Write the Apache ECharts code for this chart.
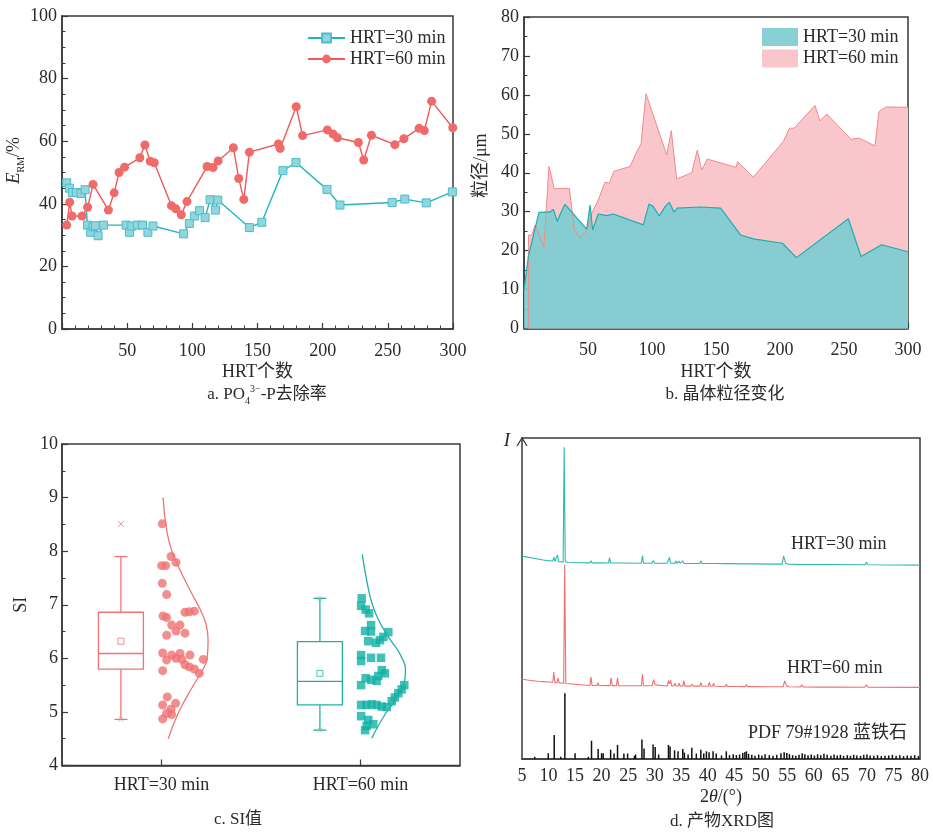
<!DOCTYPE html>
<html><head><meta charset="utf-8">
<script src="https://cdn.jsdelivr.net/npm/echarts/dist/echarts.min.js"></script>
<style>html,body{margin:0;padding:0;background:#fff}#c{width:933px;height:832px}</style>
</head><body><div id="c"></div>
<script>
// ---------- Panel a : PO4-P removal rate ----------
const aHrt30 = [[3.6,46.7],[5.6,45],[7.9,43.6],[11,43.6],[14.6,43.3],[17.7,44.5],[19.5,33.2],[22,30.9],[23.8,32.7],[25.6,33],[27.7,29.8],[31.8,33.2],[49.2,33.2],[51.8,30.9],[53.6,32.9],[57.7,33.2],[61.8,33.2],[65.9,30.9],[69.8,32.9],[93.3,30.4],[97.7,33.7],[101.8,36.1],[105.6,37.8],[109.8,35.6],[113.6,41.3],[117.7,38],[119.5,41.2],[143.8,32.4],[153.3,34.1],[169.5,50.6],[179.5,53.2],[203.3,44.6],[213.3,39.6],[253.3,40.4],[263,41.5],[279.5,40.3],[299.5,43.8]];
const aHrt60 = [[3.6,33.2],[5.9,40.5],[7.7,36.1],[15.4,36.1],[19.7,38.9],[23.8,46.2],[35.6,38],[40,43.5],[43.8,50],[48,51.7],[59.7,54.7],[63.6,58.8],[67.7,53.6],[70.8,53.1],[84,39.4],[87.4,38.4],[91.5,36.5],[95.9,40.7],[111.3,51.9],[115.9,51.6],[119.8,53.7],[131.5,57.9],[135.6,48.1],[139.5,41.4],[143.8,56.5],[166,59.1],[167.4,57.7],[179.7,71],[184.6,61.8],[203.6,63.6],[208,62.3],[211.3,61.1],[227.4,59.6],[231.5,54],[237.4,61.9],[255.4,58.9],[262.3,60.8],[274,64.1],[278,63.4],[283.6,72.8],[299.8,64.3]];

// ---------- Panel b : crystal size ----------
const bHrt30 = [[0,9.9],[3.4,18.5],[4.7,18.5],[11.7,29.8],[16,29.9],[20.3,29.9],[22.9,30.6],[26,27.5],[28.1,29.2],[32,31.9],[49,25.5],[51.6,31.7],[53.6,25.3],[58,29.4],[64.6,29],[69.8,29.4],[93.2,26.6],[97.7,32],[101,31.3],[105.7,28.9],[110.2,31.3],[113.5,32.4],[117.2,29.9],[119.8,30.9],[137.5,31.2],[153.6,30.9],[169.3,24],[179.2,23],[202,21.9],[212.8,18.2],[253.4,28.2],[263.3,18.5],[279.4,21.5],[300,19.7]];
const bHrt60 = [[3.4,0],[3.5,24],[6,24],[8.6,26.6],[15.6,21],[19.5,41.6],[23.7,35.9],[35.4,36],[39.5,25.3],[43.8,23.2],[49.5,25.5],[52.9,29.6],[58,33],[63.3,37.6],[66.6,37.3],[70.3,40.4],[82.8,41.6],[87.5,45],[91.4,47.4],[95.3,60.3],[111.5,44.6],[115.1,50.8],[119.3,38.4],[131,40],[135.4,45.8],[138.8,40.7],[143.2,43.5],[165.6,41.4],[166.9,42.8],[179.2,38.9],[202.6,48],[207.3,51.4],[211.2,51.5],[227.3,57.3],[231.2,53.3],[236.5,55.1],[255.5,48.6],[261.7,48.9],[274.2,46.9],[277.3,55.7],[282.8,56.9],[300,56.8]];

// ---------- Panel c : SI ----------
const cCategories = ['HRT=30 min','HRT=60 min'];
// [position, min, Q1, median, Q3, max]
const cBox30 = [0.296, 4.86, 5.8, 6.09, 6.86, 7.9];
const cBox60 = [1.296, 4.66, 5.13, 5.57, 6.31, 7.12];
const cMean30 = [0.296, 6.32];
const cMean60 = [1.296, 5.72];
const cOutlier30 = [[0.296, 8.51]];
const cMinMax = [[0.296,4.86],[1.296,4.66],[1.296,7.12]];
const cPoints30 = [[0.504,8.51],[0.548,7.9],[0.573,7.79],[0.501,7.73],[0.521,7.73],[0.504,7.4],[0.526,7.19],[0.508,6.79],[0.526,6.76],[0.551,6.62],[0.593,6.62],[0.573,6.51],[0.526,6.43],[0.618,6.47],[0.618,6.86],[0.640,6.87],[0.665,6.88],[0.506,6.1],[0.526,5.97],[0.551,6.06],[0.573,6.0],[0.593,6.09],[0.602,5.98],[0.643,6.06],[0.618,5.88],[0.640,5.84],[0.665,5.8],[0.710,5.98],[0.690,5.72],[0.506,5.77],[0.529,5.28],[0.506,5.13],[0.571,5.16],[0.548,5.05],[0.526,4.97],[0.551,4.95],[0.506,4.87]];
const cPoints60 = [[1.506,7.12],[1.503,6.98],[1.526,6.91],[1.543,6.84],[1.553,6.62],[1.523,6.51],[1.553,6.50],[1.640,6.49],[1.615,6.40],[1.539,6.32],[1.578,6.29],[1.598,6.34],[1.503,6.06],[1.503,5.95],[1.553,6.01],[1.603,6.01],[1.503,5.5],[1.526,5.63],[1.553,5.6],[1.589,5.67],[1.581,5.58],[1.607,5.78],[1.623,5.72],[1.720,5.5],[1.707,5.42],[1.690,5.35],[1.673,5.27],[1.657,5.2],[1.503,5.13],[1.531,5.13],[1.556,5.14],[1.581,5.13],[1.607,5.1],[1.632,5.09],[1.503,4.92],[1.539,4.85],[1.564,4.77],[1.531,4.74],[1.523,4.66]];
const cCurve30 = [[0.508,9.0],[0.526,8.39],[0.551,8.02],[0.593,7.65],[0.652,7.21],[0.702,6.85],[0.731,6.5],[0.734,6.3],[0.729,6.0],[0.702,5.75],[0.677,5.6],[0.627,5.28],[0.576,4.91],[0.534,4.5]];
const cCurve60 = [[1.509,7.94],[1.531,7.46],[1.560,7.0],[1.600,6.65],[1.651,6.34],[1.701,6.06],[1.726,5.75],[1.718,5.53],[1.676,5.22],[1.626,4.97],[1.556,4.51]];

// ---------- Panel d : XRD ----------
const dTrace30 = [[5,63.2],[6,62.9],[7,62.6],[8,62.3],[9,62.0],[10,61.8],[10.8,61.7],[11.0,62.9],[11.2,61.6],[11.5,61.6],[11.7,63.6],[11.9,61.5],[12.75,61.4],[12.95,97.1],[13.15,61.6],[13.6,61.2],[17.8,61.1],[18.0,61.8],[18.2,61.1],[19.2,61.1],[19.4,61.4],[19.6,61.1],[21.3,61.05],[21.5,62.7],[21.7,61.05],[22.7,61.05],[22.9,61.6],[23.1,61.05],[27.5,61.0],[27.7,63.3],[27.9,61.0],[29.5,61.0],[29.7,61.8],[30.0,61.0],[32.4,61.0],[32.6,62.0],[32.8,62.8],[33.0,61.0],[33.8,61.0],[34.0,61.7],[34.2,60.95],[34.4,60.95],[34.6,61.6],[34.8,60.95],[35.1,60.95],[35.3,61.7],[35.5,60.95],[36.6,60.9],[36.8,61.4],[37.0,60.9],[38.5,60.9],[38.7,61.7],[38.9,60.9],[40.0,60.9],[40.2,61.4],[40.4,60.9],[40.8,60.9],[41.0,61.5],[41.2,60.9],[43.3,60.85],[43.5,61.3],[43.7,60.85],[47.1,60.8],[47.3,61.3],[47.5,60.8],[48.1,60.8],[48.3,61.0],[48.5,60.8],[54.0,60.7],[54.3,63.2],[54.7,60.9],[55.2,60.7],[57.6,60.6],[57.8,61.0],[58.1,60.6],[62.0,60.6],[62.2,60.8],[62.4,60.6],[69.7,60.5],[69.9,61.3],[70.2,60.5],[80,60.4]];
const dTrace60 = [[5,24.9],[6,24.6],[7,24.4],[8,24.2],[9,24.1],[10,24.0],[10.8,23.9],[11.0,27.1],[11.2,23.8],[11.6,23.8],[11.8,25.3],[12.0,23.7],[12.85,23.6],[13.05,60.5],[13.25,23.5],[13.6,23.2],[17.8,22.9],[18.0,25.6],[18.2,22.9],[19.1,22.9],[19.3,23.8],[19.5,22.9],[21.6,22.85],[21.8,25.3],[22.0,22.85],[22.8,22.85],[23.0,25.3],[23.2,22.85],[24.3,22.8],[24.5,23.3],[24.7,22.8],[27.5,22.8],[27.7,26.4],[27.9,22.8],[29.5,22.8],[29.8,24.7],[30.1,23.1],[30.4,22.8],[32.4,22.75],[32.6,24.4],[32.8,23.4],[33.0,24.6],[33.2,22.75],[33.6,22.75],[33.8,23.6],[34.0,22.75],[34.4,22.75],[34.6,23.6],[34.8,22.75],[35.3,22.7],[35.5,24.4],[35.7,22.7],[36.8,22.7],[37.0,23.4],[37.2,22.7],[38.5,22.7],[38.7,23.9],[38.9,22.7],[40.1,22.65],[40.3,23.9],[40.5,22.65],[40.9,22.65],[41.1,23.6],[41.3,22.65],[43.3,22.6],[43.5,23.4],[43.7,22.6],[45.0,22.6],[45.2,22.9],[45.4,22.6],[47.1,22.55],[47.3,23.2],[47.5,22.55],[48.3,22.55],[48.5,22.8],[48.7,22.55],[51.0,22.5],[51.2,22.8],[51.4,22.5],[54.2,22.5],[54.5,24.3],[54.9,22.7],[55.3,22.5],[57.5,22.45],[57.7,23.1],[58.0,22.45],[61.0,22.4],[61.2,22.7],[61.4,22.4],[63.5,22.4],[63.7,22.6],[63.9,22.4],[69.6,22.35],[69.9,23.1],[70.2,22.35],[80,22.3]];
const dPdfSticks = [[7.4,0.7],[9.95,1.8],[11.07,7.5],[12.3,0.7],[13.08,20.5],[15.0,1.8],[17.5,0.7],[18.1,5.7],[19.35,3.1],[20.0,1.8],[20.3,1.8],[21.7,2.9],[22.35,1.7],[23.0,4.4],[24.2,1.7],[24.9,1.7],[26.2,1.0],[26.4,1.4],[27.6,6.1],[28.0,3.3],[29.7,4.5],[30.1,3.7],[30.75,1.4],[32.6,4.4],[32.9,3.9],[33.75,2.7],[34.4,2.4],[35.3,3.1],[35.6,2.0],[36.3,1.4],[37.0,3.5],[37.85,1.7],[38.7,2.9],[39.25,1.7],[39.75,2.4],[40.25,2.1],[41.0,2.4],[41.6,1.7],[42.6,1.1],[43.5,2.4],[44.1,1.2],[44.8,1.5],[45.4,1.2],[46.0,1.4],[46.6,1.9],[47.0,2.2],[47.3,2.4],[47.7,1.6],[48.3,1.3],[48.9,1.0],[49.6,1.4],[50.2,1.1],[50.8,1.5],[51.6,1.2],[52.3,1.0],[53.0,1.3],[53.8,1.8],[54.4,2.1],[54.9,1.9],[55.4,1.5],[56.0,1.2],[56.6,1.0],[57.2,1.3],[57.8,1.8],[58.3,1.5],[58.9,1.2],[59.5,1.4],[60.1,1.1],[60.7,1.5],[61.3,1.2],[61.9,1.6],[62.5,1.3],[63.2,1.0],[63.8,1.4],[64.4,1.1],[65.0,1.3],[65.6,1.0],[66.3,1.2],[66.9,1.0],[67.5,1.3],[68.1,1.1],[68.8,1.0],[69.4,1.3],[70.0,1.4],[70.6,1.1],[71.3,1.0],[72.0,1.2],[72.7,0.9],[73.4,1.0],[74.1,1.1],[74.8,1.3],[75.5,1.0],[76.2,1.2],[76.9,0.9],[77.6,1.1],[78.3,1.0],[79.0,1.2],[79.7,0.9]];

// ---------- styling ----------
const FF = "'Liberation Serif','Noto Sans CJK SC',serif";
const AX = '#3a3a3a';
const TXT = '#2a2a2a';
const TEAL = '#22b5bf', TEAL_FILL = '#90d6de';
const RED = '#ee5a5a', RED_FILL = '#f06a6a';
const C_RED = '#f07272', C_TEAL = '#1fb1a8';

function valAxis(o) {
  return Object.assign({
    type: 'value',
    axisLine: { show: true, lineStyle: { color: AX, width: 1.5 } },
    axisTick: { show: true, inside: true, length: 6, lineStyle: { color: AX, width: 1.2 } },
    minorTick: { show: true, splitNumber: 5, length: 3.5, lineStyle: { color: AX, width: 1 } },
    splitLine: { show: false },
    minorSplitLine: { show: false },
    axisLabel: { color: TXT, fontFamily: FF, fontSize: 18, margin: 6 },
    nameTextStyle: { color: TXT, fontFamily: FF, fontSize: 18 }
  }, o);
}
const gridBase = { show: true, borderColor: AX, borderWidth: 1.5, backgroundColor: 'transparent', containLabel: false, outerBoundsMode: 'none' };

const chart = echarts.init(document.getElementById('c'), null, { renderer: 'canvas' });

function boxRender(color) {
  return function (params, api) {
    const x = api.value(0);
    const lo = api.coord([x, api.value(1)]);
    const q1 = api.coord([x, api.value(2)]);
    const md = api.coord([x, api.value(3)]);
    const q3 = api.coord([x, api.value(4)]);
    const hi = api.coord([x, api.value(5)]);
    const cx = lo[0], hw = 22.5, cw = 6.5;
    const st = { stroke: color, lineWidth: 1.3, fill: null };
    return {
      type: 'group', children: [
        { type: 'rect', shape: { x: cx - hw, y: q3[1], width: 2 * hw, height: q1[1] - q3[1] }, style: { stroke: color, lineWidth: 1.3, fill: 'transparent' } },
        { type: 'line', shape: { x1: cx - hw, y1: md[1], x2: cx + hw, y2: md[1] }, style: st },
        { type: 'line', shape: { x1: cx, y1: q3[1], x2: cx, y2: hi[1] }, style: st },
        { type: 'line', shape: { x1: cx, y1: q1[1], x2: cx, y2: lo[1] }, style: st },
        { type: 'line', shape: { x1: cx - cw, y1: hi[1], x2: cx + cw, y2: hi[1] }, style: st },
        { type: 'line', shape: { x1: cx - cw, y1: lo[1], x2: cx + cw, y2: lo[1] }, style: st }
      ]
    };
  };
}
const XPATH = 'path://M0,0L10,10M10,0L0,10';

const option = {
  animation: false,
  backgroundColor: '#fff',
  grid: [
    Object.assign({ left: 62, top: 16, width: 391, height: 313 }, gridBase),
    Object.assign({ left: 524, top: 17, width: 384, height: 311.5 }, gridBase),
    Object.assign({ left: 62, top: 444, width: 398, height: 321.5 }, gridBase),
    Object.assign({ left: 522, top: 438, width: 398, height: 321 }, gridBase)
  ],
  legend: [
    {
      left: 302, top: 24, orient: 'vertical', itemWidth: 37, itemHeight: 11, itemGap: 3,
      data: ['HRT=30 min', 'HRT=60 min'],
      textStyle: { color: TXT, fontFamily: FF, fontSize: 18, lineHeight: 18 }
    },
    {
      left: 757, top: 23, orient: 'vertical', itemWidth: 36, itemHeight: 18, itemGap: 3.5,
      data: [
        { name: 'HRT=30 min ', icon: 'rect', itemStyle: { color: '#88d0d4', borderWidth: 0 } },
        { name: 'HRT=60 min ', icon: 'rect', itemStyle: { color: '#f8c6cb', borderWidth: 0 } }
      ],
      formatter: n => n.trim(),
      textStyle: { color: TXT, fontFamily: FF, fontSize: 18, lineHeight: 18 }
    }
  ],
  xAxis: [
    valAxis({ gridIndex: 0, min: 0, max: 300, interval: 50,
      axisLabel: { color: TXT, fontFamily: FF, fontSize: 18, margin: 13, formatter: v => v === 0 ? '' : v },
      name: 'HRT个数', nameLocation: 'middle', nameGap: 34 }),
    valAxis({ gridIndex: 1, min: 0, max: 300, interval: 50,
      axisLabel: { color: TXT, fontFamily: FF, fontSize: 18, margin: 13, formatter: v => v === 0 ? '' : v },
      name: 'HRT个数', nameLocation: 'middle', nameGap: 35 }),
    { type: 'category', gridIndex: 2, data: cCategories, boundaryGap: true,
      axisLine: { show: true, lineStyle: { color: AX, width: 1.5 } },
      axisTick: { show: true, inside: true, alignWithLabel: true, length: 6, lineStyle: { color: AX, width: 1.2 } },
      axisLabel: { color: TXT, fontFamily: FF, fontSize: 18, margin: 11 },
      splitLine: { show: false } },
    { type: 'value', gridIndex: 2, min: 0, max: 2, show: false },
    valAxis({ gridIndex: 3, min: 5, max: 80, interval: 5,
      axisTick: { show: false }, minorTick: { show: false },
      axisLabel: { color: TXT, fontFamily: FF, fontSize: 18, margin: 8 },
      name: '{n|2}{i|θ}{n|/(°)}', nameLocation: 'middle', nameGap: 29,
      nameTextStyle: { rich: { n: { fontFamily: FF, fontSize: 18, color: TXT }, i: { fontFamily: FF, fontSize: 18, fontStyle: 'italic', color: TXT } } } })
  ],
  yAxis: [
    valAxis({ gridIndex: 0, min: 0, max: 100, interval: 20,
      minorTick: { show: true, splitNumber: 4, length: 3.5, lineStyle: { color: AX, width: 1 } },
      axisLabel: { color: TXT, fontFamily: FF, fontSize: 18, margin: 5 },
      name: '{i|E}{s|RM}{n|/%}', nameLocation: 'middle', nameGap: 33, nameRotate: 90,
      nameTextStyle: { padding: [0, 0, 0, 24], rich: {
        i: { fontFamily: FF, fontSize: 19, fontStyle: 'italic', color: TXT, lineHeight: 24 },
        s: { fontFamily: FF, fontSize: 10, color: TXT, lineHeight: 12, verticalAlign: 'bottom' },
        n: { fontFamily: FF, fontSize: 18, color: TXT, lineHeight: 24 } } } }),
    valAxis({ gridIndex: 1, min: 0, max: 80, interval: 10,
      minorTick: { show: true, splitNumber: 2, length: 3.5, lineStyle: { color: AX, width: 1 } },
      axisLabel: { color: TXT, fontFamily: FF, fontSize: 18, margin: 5 },
      name: '粒径/μm', nameLocation: 'middle', nameGap: 34, nameRotate: 90,
      nameTextStyle: { color: TXT, fontFamily: FF, fontSize: 18, padding: [0, 0, 0, 14] } }),
    valAxis({ gridIndex: 2, min: 4, max: 10, interval: 1,
      minorTick: { show: true, splitNumber: 2, length: 3.5, lineStyle: { color: AX, width: 1 } },
      axisLabel: { color: TXT, fontFamily: FF, fontSize: 18, margin: 4 },
      name: 'SI', nameLocation: 'middle', nameGap: 32, nameRotate: 90 }),
    { type: 'value', gridIndex: 3, min: 0, max: 100, show: false }
  ],
  series: [
    // panel a
    { name: 'HRT=30 min', type: 'line', xAxisIndex: 0, yAxisIndex: 0, data: aHrt30,
      symbol: 'rect', symbolSize: 8, lineStyle: { color: TEAL, width: 1.4 },
      itemStyle: { color: TEAL_FILL, borderColor: '#4dbcc8', borderWidth: 1 } },
    { name: 'HRT=60 min', type: 'line', xAxisIndex: 0, yAxisIndex: 0, data: aHrt60,
      symbol: 'circle', symbolSize: 9, lineStyle: { color: RED, width: 1.4 },
      itemStyle: { color: RED_FILL } },
    // panel b
    { name: 'HRT=60 min ', type: 'line', xAxisIndex: 1, yAxisIndex: 1, data: bHrt60,
      showSymbol: false, symbol: 'none', lineStyle: { color: '#f08a8e', width: 1 },
      itemStyle: { color: '#f8c6cb' }, areaStyle: { color: '#f8c6cb', opacity: 1 } },
    { name: 'HRT=30 min ', type: 'line', xAxisIndex: 1, yAxisIndex: 1, data: bHrt30,
      showSymbol: false, symbol: 'none', lineStyle: { color: '#1aafae', width: 1.2 },
      itemStyle: { color: '#88d0d4' }, areaStyle: { color: '#7accd0', opacity: 0.9 } },
    // panel c boxes
    { type: 'custom', xAxisIndex: 3, yAxisIndex: 2, data: [cBox30], renderItem: boxRender(C_RED), z: 3 },
    { type: 'custom', xAxisIndex: 3, yAxisIndex: 2, data: [cBox60], renderItem: boxRender(C_TEAL), z: 3 },
    { type: 'scatter', xAxisIndex: 3, yAxisIndex: 2, data: [cMean30], symbol: 'rect', symbolSize: 6,
      itemStyle: { color: '#fff', borderColor: C_RED, borderWidth: 1 }, z: 4 },
    { type: 'scatter', xAxisIndex: 3, yAxisIndex: 2, data: [cMean60], symbol: 'rect', symbolSize: 6,
      itemStyle: { color: '#fff', borderColor: C_TEAL, borderWidth: 1 }, z: 4 },
    { type: 'scatter', xAxisIndex: 3, yAxisIndex: 2, data: cOutlier30, symbol: XPATH, symbolSize: 6,
      itemStyle: { color: 'transparent', borderColor: C_RED, borderWidth: 1 }, z: 4 },
    { type: 'scatter', xAxisIndex: 3, yAxisIndex: 2, data: cMinMax, symbol: XPATH, symbolSize: 5,
      itemStyle: { color: 'transparent', borderColor: '#c99', borderWidth: 0.8, opacity: 0.8 }, z: 4 },
    { type: 'scatter', xAxisIndex: 3, yAxisIndex: 2, data: cPoints30, symbol: 'circle', symbolSize: 9,
      itemStyle: { color: C_RED } },
    { type: 'scatter', xAxisIndex: 3, yAxisIndex: 2, data: cPoints60, symbol: 'rect', symbolSize: 8.5,
      itemStyle: { color: '#10b0a4' } },
    { type: 'line', xAxisIndex: 3, yAxisIndex: 2, data: cCurve30, smooth: 0.5, symbol: 'none',
      lineStyle: { color: C_RED, width: 1.3 } },
    { type: 'line', xAxisIndex: 3, yAxisIndex: 2, data: cCurve60, smooth: 0.5, symbol: 'none',
      lineStyle: { color: C_TEAL, width: 1.3 } },
    // panel d
    { type: 'bar', xAxisIndex: 4, yAxisIndex: 3, data: dPdfSticks, barWidth: 1.5,
      itemStyle: { color: '#111' }, silent: true },
    { type: 'line', xAxisIndex: 4, yAxisIndex: 3, data: dTrace60, symbol: 'none',
      lineStyle: { color: '#f07070', width: 1.1 } },
    { type: 'line', xAxisIndex: 4, yAxisIndex: 3, data: dTrace30, symbol: 'none',
      lineStyle: { color: '#2db8b0', width: 1.1 } }
  ],
  graphic: [
    { type: 'text', x: 267, y: 395, style: { text: '{n|a. PO}{s|4}{p|3−}{n|-P去除率}', align: 'center', verticalAlign: 'middle',
      rich: { n: { fontFamily: FF, fontSize: 17, fill: TXT, lineHeight: 22 },
              s: { fontFamily: FF, fontSize: 10, fill: TXT, lineHeight: 12, verticalAlign: 'bottom' },
              p: { fontFamily: FF, fontSize: 10, fill: TXT, lineHeight: 12, verticalAlign: 'top' } } } },
    { type: 'text', x: 725, y: 395, style: { text: 'b. 晶体粒径变化', align: 'center', verticalAlign: 'middle', fontFamily: FF, fontSize: 17, fill: TXT } },
    { type: 'text', x: 238, y: 820, style: { text: 'c. SI值', align: 'center', verticalAlign: 'middle', fontFamily: FF, fontSize: 17, fill: TXT } },
    { type: 'text', x: 722, y: 822, style: { text: 'd. 产物XRD图', align: 'center', verticalAlign: 'middle', fontFamily: FF, fontSize: 17, fill: TXT } },
    { type: 'text', x: 791, y: 544, style: { text: 'HRT=30 min', align: 'left', verticalAlign: 'middle', fontFamily: FF, fontSize: 18, fill: TXT } },
    { type: 'text', x: 787, y: 668, style: { text: 'HRT=60 min', align: 'left', verticalAlign: 'middle', fontFamily: FF, fontSize: 18, fill: TXT } },
    { type: 'text', x: 748, y: 733, style: { text: 'PDF 79#1928 蓝铁石', align: 'left', verticalAlign: 'middle', fontFamily: FF, fontSize: 18, fill: TXT } },
    { type: 'text', x: 507, y: 441, style: { text: 'I', align: 'center', verticalAlign: 'middle', fontFamily: FF, fontSize: 19, fontStyle: 'italic', fill: TXT } },
    { type: 'polyline', shape: { points: [[517, 446], [522, 438], [527, 446]] }, style: { stroke: AX, lineWidth: 1.3, fill: null } }
  ]
};
chart.setOption(option);
</script></body></html>
